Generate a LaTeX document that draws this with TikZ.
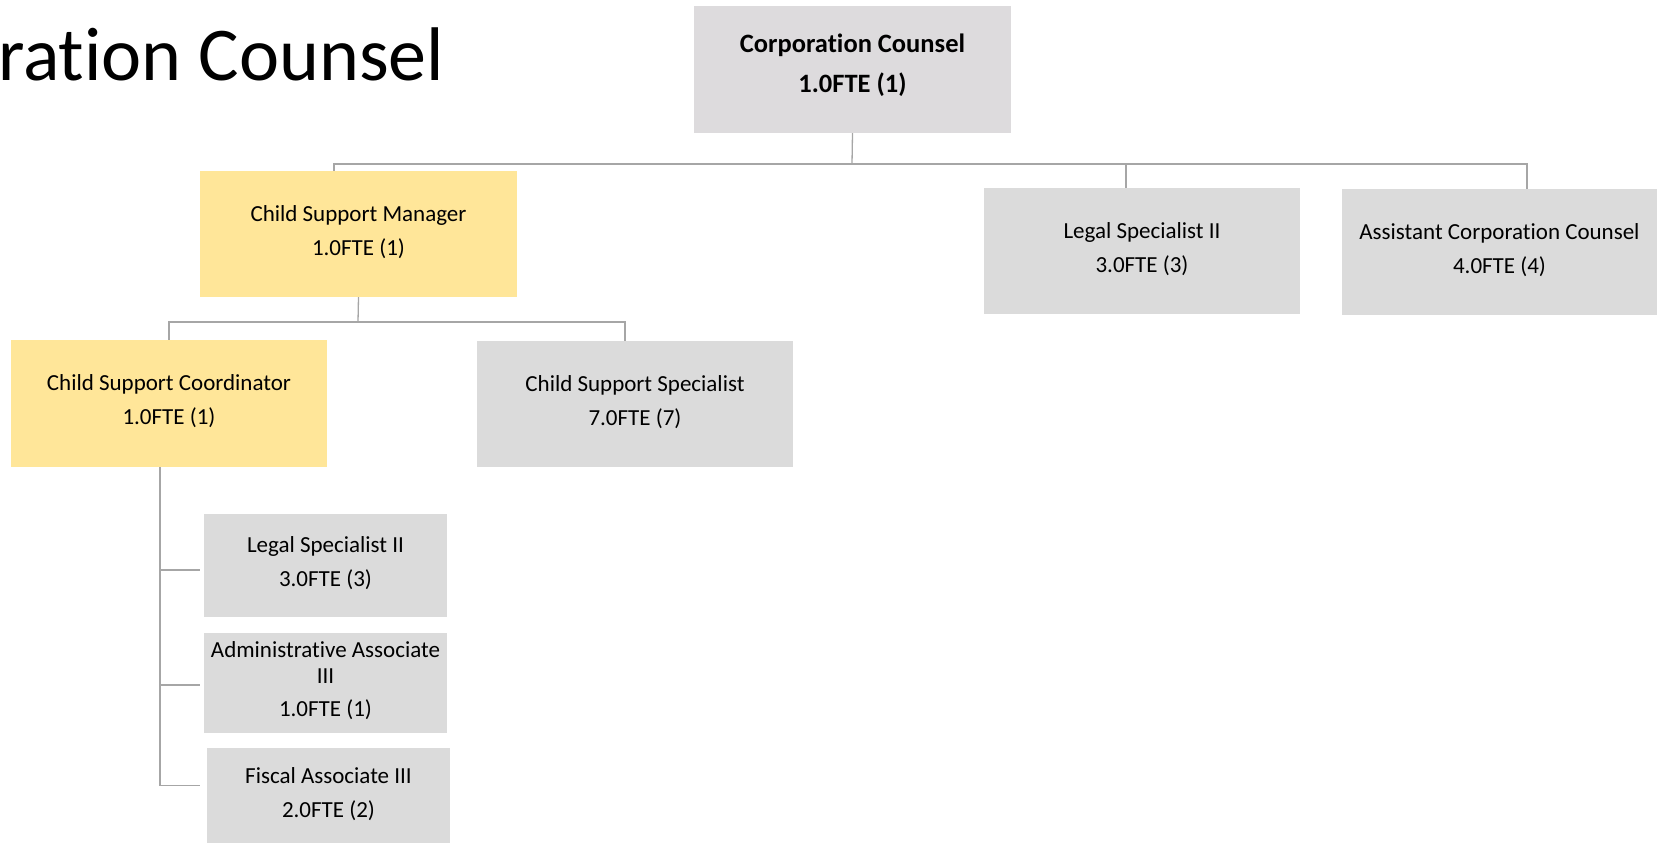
\documentclass[tikz,border=0pt]{standalone}
\usepackage{fontspec}
\setmainfont{Carlito}[Ligatures=NoCommon]
\definecolor{boxgray}{HTML}{DBDBDB}
\definecolor{topgray}{HTML}{DDDBDD}
\definecolor{boxyellow}{HTML}{FFE699}
\definecolor{linegray}{HTML}{A6A6A6}
\newcommand{\liftstrut}{\rule[-7pt]{0pt}{0pt}}
\newcommand{\bigliftstrut}{\rule[-12pt]{0pt}{0pt}}
\begin{document}
\begin{tikzpicture}[x=1pt,y=-1pt,
  box/.style={rectangle, inner sep=0pt, align=center, text=black,
    font=\fontsize{23}{26}\selectfont},
  graybox/.style={box, fill=boxgray},
  yellowbox/.style={box, fill=boxyellow},
  conn/.style={draw=linegray, line width=1.3pt}]
\useasboundingbox (0,0) rectangle (1663,843);

% title (partly cut off at the left edge)
\node[anchor=base west, inner sep=0pt, font=\fontsize{76}{80}\selectfont] (title) at (-2,81) {ration Counsel};

% boxes
\node[box, fill=topgray, minimum width=317pt, minimum height=127pt,
  font=\bfseries\fontsize{26.5}{30}\selectfont] (cc) at (852.5,69.5)
  {Corporation Counsel\\[10pt]1.0FTE (1)\bigliftstrut};
\node[yellowbox, minimum width=317pt, minimum height=126pt] (mgr) at (358.5,234)
  {Child Support Manager\\[8pt]1.0FTE (1)\liftstrut};
\node[graybox, minimum width=316pt, minimum height=126pt] (ls1) at (1142,251)
  {Legal Specialist II\\[8pt]3.0FTE (3)\liftstrut};
\node[graybox, minimum width=315pt, minimum height=126pt] (acc) at (1499.5,252)
  {Assistant Corporation Counsel\\[8pt]4.0FTE (4)\liftstrut};
\node[yellowbox, minimum width=316pt, minimum height=127pt] (coord) at (169,403.5)
  {Child Support Coordinator\\[8pt]1.0FTE (1)\liftstrut};
\node[graybox, minimum width=316pt, minimum height=126pt] (css) at (635,404)
  {Child Support Specialist\\[8pt]7.0FTE (7)\liftstrut};
\node[graybox, minimum width=243pt, minimum height=103pt] (ls2) at (325.5,565.5)
  {Legal Specialist II\\[8pt]3.0FTE (3)\liftstrut};
\node[graybox, minimum width=243pt, minimum height=100pt] (aa) at (325.5,683)
  {Administrative Associate\\III\\[7pt]1.0FTE (1)\liftstrut};
\node[graybox, minimum width=243pt, minimum height=96pt] (fa) at (328.5,796)
  {Fiscal Associate III\\[8pt]2.0FTE (2)\liftstrut};

% connectors
\coordinate (bus1) at (852,164);
\coordinate (bus2) at (358,322);
\coordinate (spine) at (160,467);
\coordinate (b1) at ([xshift=-4pt,yshift=-4.5pt]ls2.west);
\coordinate (b2) at ([xshift=-4pt,yshift=-2pt]aa.west);
\coordinate (b3) at ([xshift=-7pt,yshift=10.5pt]fa.west);
\draw[conn] (cc.south) -- (bus1);
\draw[conn] ([xshift=-24.5pt]mgr.north) |- (bus1) -| ([xshift=27.5pt]acc.north);
\draw[conn] ([xshift=-16pt]ls1.north) -- ([xshift=-16pt]ls1.north |- bus1);
\draw[conn] (mgr.south) -- (bus2);
\draw[conn] (coord.north) |- (bus2) -| ([xshift=-10pt]css.north);
\draw[conn] (spine) |- (b3);
\draw[conn] (spine |- b1) -- (b1);
\draw[conn] (spine |- b2) -- (b2);
\end{tikzpicture}
\end{document}
